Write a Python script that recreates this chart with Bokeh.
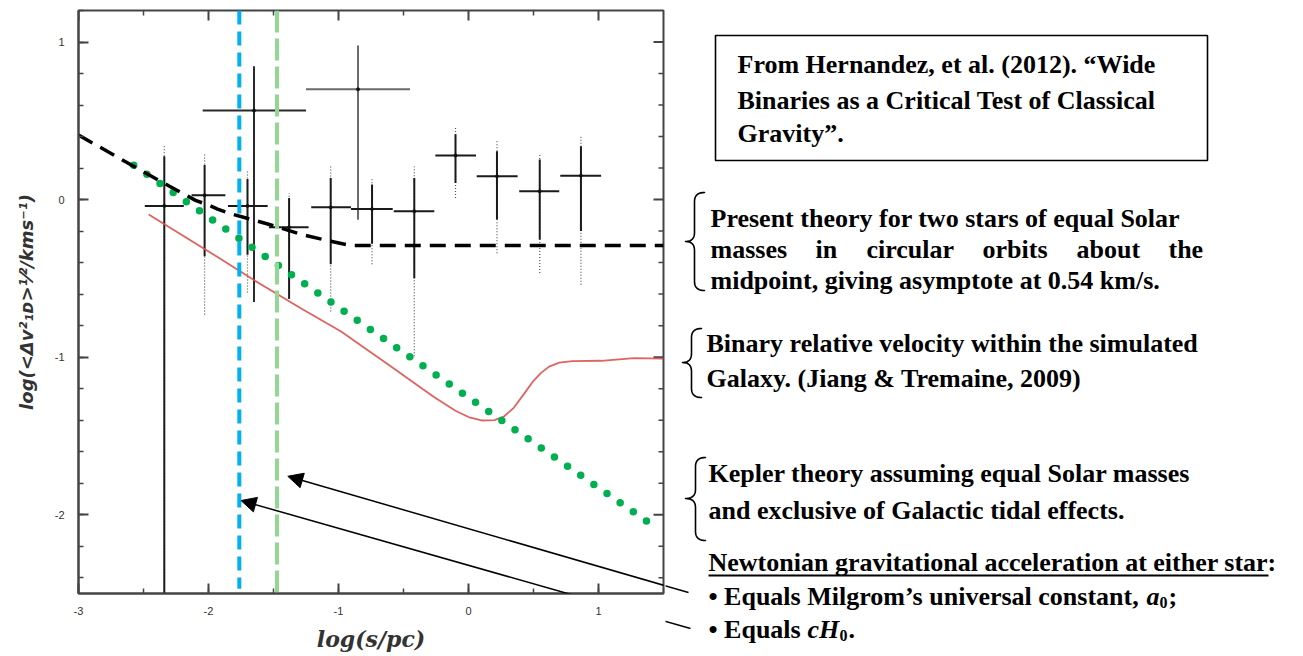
import math
from bokeh.plotting import figure
from bokeh.layouts import row, column
from bokeh.models import (Range1d, SingleIntervalTicker, Label, Arrow, NormalHead)
from bokeh.embed import file_html
from bokeh.resources import INLINE

# ---------------- data ----------------
sep_x   = [-2.34, -2.03, -1.65, -1.70, -1.38, -1.06, -0.85, -0.742, -0.417, -0.10, 0.219, 0.548, 0.865]
dv_y    = [-0.04, 0.027, 0.565, -0.04, -0.176, -0.049, 0.70, -0.06, -0.074, 0.28, 0.148, 0.053, 0.152]
bin_lo  = [-2.49, -2.13, -2.045, -1.85, -1.535, -1.21, -1.25, -0.904, -0.575, -0.255, 0.063, 0.39, 0.706]
bin_hi  = [-2.19, -1.87, -1.25, -1.545, -1.23, -0.904, -0.45, -0.583, -0.263, 0.058, 0.378, 0.698, 1.02]
err_hi  = [0.275, 0.22, 0.846, 0.13, 0.01, 0.137, 0.978, 0.095, 0.137, 0.415, 0.307, 0.254, 0.338]
err_lo  = [-2.6, -0.36, -0.65, -0.35, -0.63, -0.41, -0.127, -0.28, -0.5, 0.105, -0.127, -0.254, -0.2]
err2_hi = [0.35, 0.29, 0.846, 0.19, 0.04, 0.21, 0.978, 0.137, 0.21, 0.455, 0.375, 0.286, 0.402]
err2_lo = [-2.6, -0.73, -0.65, -0.59, -0.63, -0.71, -0.127, -0.41, -0.995, 0.01, -0.34, -0.466, -0.54]
bar_col = ["#1a1a1a", "#1a1a1a", "#2a2a2a", "#1a1a1a", "#1a1a1a", "#1a1a1a", "#6a6a6a",
           "#1a1a1a", "#1a1a1a", "#1a1a1a", "#1a1a1a", "#1a1a1a", "#1a1a1a"]

theory_x = [-3.0, -2.6, -2.3, -2.1, -2.0, -1.93, -1.85, -1.71, -1.545, -1.29, -1.06, -0.904, 1.5]
theory_y = [0.41, 0.222, 0.085, -0.005, -0.035, -0.06, -0.085, -0.117, -0.155, -0.22, -0.265, -0.292, -0.292]

kepler_x = [-2.575, 1.37]
kepler_y = [0.218, -2.04]

jt_x = [-2.46, -1.9, -1.648, -1.29, -0.98, -0.596, -0.263, -0.1, 0.0, 0.1, 0.2, 0.275, 0.35,
        0.43, 0.5, 0.558, 0.62, 0.698, 0.8, 1.02, 1.275, 1.5]
jt_y = [-0.095, -0.38, -0.512, -0.69, -0.837, -1.06, -1.255, -1.34, -1.38, -1.402, -1.40, -1.375,
        -1.32, -1.23, -1.15, -1.10, -1.06, -1.035, -1.025, -1.023, -1.006, -1.01]

a0_sep = -1.473      # a = Milgrom a0
ch0_sep = -1.763     # a = cH0
arrow_tip_x = [-1.39, -1.75]
arrow_tip_y = [-1.756, -1.91]

x_ticks = [-3, -2, -1, 0, 1]
x_tick_labels = ["-3", "-2", "-1", "0", "1"]
x_minor = [-2.5, -1.5, -0.5, 0.5]
y_ticks = [-2, -1, 0, 1]
y_tick_labels = ["-2", "-1", "0", "1"]
y_minor = [-2.4, -2.2, -1.8, -1.6, -1.4, -1.2, -0.8, -0.6, -0.4, -0.2,
           0.2, 0.4, 0.6, 0.8]

X0, X1, Y0, Y1 = -3.0, 1.5, -2.5, 1.2

# ---------------- layout ----------------
PAGE_W, PAGE_H = 1303, 656
LEFT_W = 665
BL, BR, BT, BB = 78, 2, 10, 63
FL, FR, FT, FB = BL, LEFT_W - BR, BT, PAGE_H - BB


def dx(xp):  # page pixel -> data x
    return X0 + (xp - FL) * (X1 - X0) / (FR - FL)


def dy(yp):  # page pixel -> data y
    return Y1 - (yp - FT) * (Y1 - Y0) / (FB - FT)


def to_px(x):
    return FL + (x - X0) * (FR - FL) / (X1 - X0)


def to_py(y):
    return FT + (Y1 - y) * (FB - FT) / (Y1 - Y0)


p = figure(width=LEFT_W, height=PAGE_H, x_range=Range1d(X0, X1), y_range=Range1d(Y0, Y1),
           output_backend="svg", toolbar_location=None,
           min_border_left=BL, min_border_right=BR, min_border_top=BT, min_border_bottom=BB,
           x_axis_label="log(s/pc)", y_axis_label="log(<Δv²₁ᴅ>¹⁄²/kms⁻¹)",
           background_fill_color="white", border_fill_color="white",
           outline_line_color="#444444", outline_line_width=2)
p.grid.visible = False
xb = p.below[0]
yl = p.left[0]

xb.ticker = SingleIntervalTicker(interval=1, num_minor_ticks=2)
yl.ticker = SingleIntervalTicker(interval=1, num_minor_ticks=5)
xb.major_label_overrides = dict(zip(x_ticks, x_tick_labels))
yl.major_label_overrides = dict(zip(y_ticks, y_tick_labels))

for ax in [xb, yl]:
    ax.major_tick_in = 10
    ax.major_tick_out = 0
    ax.minor_tick_in = 5
    ax.minor_tick_out = 0
    ax.axis_line_color = "#444444"
    ax.axis_line_width = 2
    ax.major_tick_line_color = "#444444"
    ax.major_tick_line_width = 2
    ax.minor_tick_line_color = "#444444"
    ax.minor_tick_line_width = 1.5
    ax.major_label_text_font = "Liberation Sans"
    ax.major_label_text_font_size = "11px"
    ax.major_label_text_color = "#333333"

xb.major_label_standoff = 13
xb.axis_label_standoff = 8
xb.axis_label_text_font = "DejaVu Serif"
xb.axis_label_text_font_style = "bold italic"
xb.axis_label_text_font_size = "22px"
xb.axis_label_text_color = "#333333"

yl.major_label_standoff = 14
yl.axis_label_standoff = 15
yl.axis_label_text_font = "DejaVu Sans"
yl.axis_label_text_font_style = "bold italic"
yl.axis_label_text_font_size = "18px"
yl.axis_label_text_color = "#333333"

# mirrored tick marks on the top and right edges of the frame (half of each dash is clipped)
p.scatter(x=[X1] * len(y_ticks), y=y_ticks, marker="dash", size=20, line_width=2,
          line_color="#444444")
p.scatter(x=[X1] * len(y_minor), y=y_minor, marker="dash", size=10, line_width=1.5,
          line_color="#444444")
p.scatter(x=x_ticks, y=[Y1] * len(x_ticks), marker="dash", size=20, angle=math.pi / 2,
          line_width=2, line_color="#444444")
p.scatter(x=x_minor, y=[Y1] * len(x_minor), marker="dash", size=10, angle=math.pi / 2,
          line_width=1.5, line_color="#444444")

# ---------------- data marks ----------------
p.segment(x0=sep_x, y0=err2_lo, x1=sep_x, y1=err2_hi, line_color="#555555",
          line_width=1.2, line_dash="1 2")
p.segment(x0=sep_x, y0=err_lo, x1=sep_x, y1=err_hi, line_color=bar_col, line_width=2)
p.segment(x0=bin_lo, y0=dv_y, x1=bin_hi, y1=dv_y, line_color=bar_col, line_width=2)
p.scatter(sep_x, dv_y, size=3, color="#111111")

p.line(jt_x, jt_y, line_color="#d9534f", line_width=1.8, line_alpha=0.9)
p.line(kepler_x, kepler_y, line_color="#00b050", line_width=7.5, line_dash="0 16",
       line_cap="round")
p.line(theory_x, theory_y, line_color="black", line_width=3.5, line_dash="16 9")

p.segment(x0=[a0_sep], y0=[Y1], x1=[a0_sep], y1=[Y0], line_color="#92d892",
          line_width=4, line_dash="22 6")
p.segment(x0=[ch0_sep], y0=[Y1], x1=[ch0_sep], y1=[-2.47], line_color="#00b0f0",
          line_width=4, line_dash="14 7")

arrow_starts = [(688, 592), (690, 628)]
for (sx, sy), tx, ty in zip(arrow_starts, arrow_tip_x, arrow_tip_y):
    p.add_layout(Arrow(end=NormalHead(size=15, fill_color="black", line_color="black"),
                       x_start=dx(sx), y_start=dy(sy), x_end=tx, y_end=ty,
                       line_color="black", line_width=1.5))

# ---------------- right-hand annotation panel (page pixel coordinates) ----------------
q = figure(width=PAGE_W - LEFT_W, height=PAGE_H, x_range=Range1d(LEFT_W, PAGE_W),
           y_range=Range1d(PAGE_H, 0), output_backend="svg", toolbar_location=None,
           x_axis_type=None, y_axis_type=None, min_border=0,
           outline_line_color=None, background_fill_color="white", border_fill_color="white")
q.grid.visible = False

q.segment(x0=[s[0] for s in arrow_starts], y0=[s[1] for s in arrow_starts],
          x1=[to_px(v) for v in arrow_tip_x], y1=[to_py(v) for v in arrow_tip_y],
          line_color="black", line_width=1.5)


def quad(a, c, b, n=10):
    return [((1 - t) ** 2 * a[0] + 2 * (1 - t) * t * c[0] + t ** 2 * b[0],
             (1 - t) ** 2 * a[1] + 2 * (1 - t) * t * c[1] + t ** 2 * b[1])
            for t in [i / n for i in range(n + 1)]]


def brace(xe, xs, xt_, yt_, ym, yb, r=9):
    pts = quad((xe, yt_), (xs, yt_), (xs, yt_ + r))
    pts += quad((xs, ym - r), (xs, ym), (xt_, ym))
    pts += quad((xt_, ym), (xs, ym), (xs, ym + r))
    pts += quad((xs, yb - r), (xs, yb), (xe, yb))
    return pts


braces = [brace(704, 694, 685, 192, 241, 290), brace(701, 691, 682, 328, 362, 397),
          brace(705, 695, 685, 457, 498, 540)]
q.multi_line(xs=[[a for a, _ in b] for b in braces], ys=[[c for _, c in b] for b in braces],
             line_color="black", line_width=1.6, line_join="round", line_cap="round")

q.rect(x=[(715 + 1207) / 2], y=[(35 + 160) / 2], width=[1207 - 715], height=[160 - 35],
       fill_alpha=0, line_color="black", line_width=1.6)
q.segment(x0=[708], y0=[575], x1=[1268], y1=[575], line_color="black", line_width=2)


def label(x, y, text, size="26px", style="bold"):
    q.add_layout(Label(x=x, y=y, text=text, text_font="Liberation Serif",
                       text_font_style=style, text_font_size=size, text_color="black",
                       text_baseline="middle", text_align="left"))


texts = [
    (737, 64, "From Hernandez, et al. (2012). “Wide"),
    (737, 100, "Binaries as a Critical Test of Classical"),
    (737, 133, "Gravity”."),
    (710, 218, "Present theory for two stars of equal Solar"),
    (710, 280, "midpoint, giving asymptote at 0.54 km/s."),
    (706, 343, "Binary relative velocity within the simulated"),
    (706, 378, "Galaxy. (Jiang & Tremaine, 2009)"),
    (708, 473, "Kepler theory assuming equal Solar masses"),
    (708, 510, "and  exclusive of Galactic tidal effects."),
    (708, 562, "Newtonian gravitational acceleration at either star:"),
    (708, 596, "• Equals Milgrom’s universal constant,"),
    (708, 629, "• Equals"),
]
for x, y, t in texts:
    label(x, y, t)

for x, w in zip([710, 815, 866, 982, 1076, 1168],
                ["masses", "in", "circular", "orbits", "about", "the"]):
    label(x, 249, w)

label(1146, 596, "a", style="bold italic")
label(1159, 602, "0", size="16px")
label(1168, 596, ";")
label(807, 629, "cH", style="bold italic")
label(839, 635, "0", size="16px")
label(848, 629, ".")

layout = row(p, column(q))
open("out.html", "w").write(file_html(layout, INLINE))
